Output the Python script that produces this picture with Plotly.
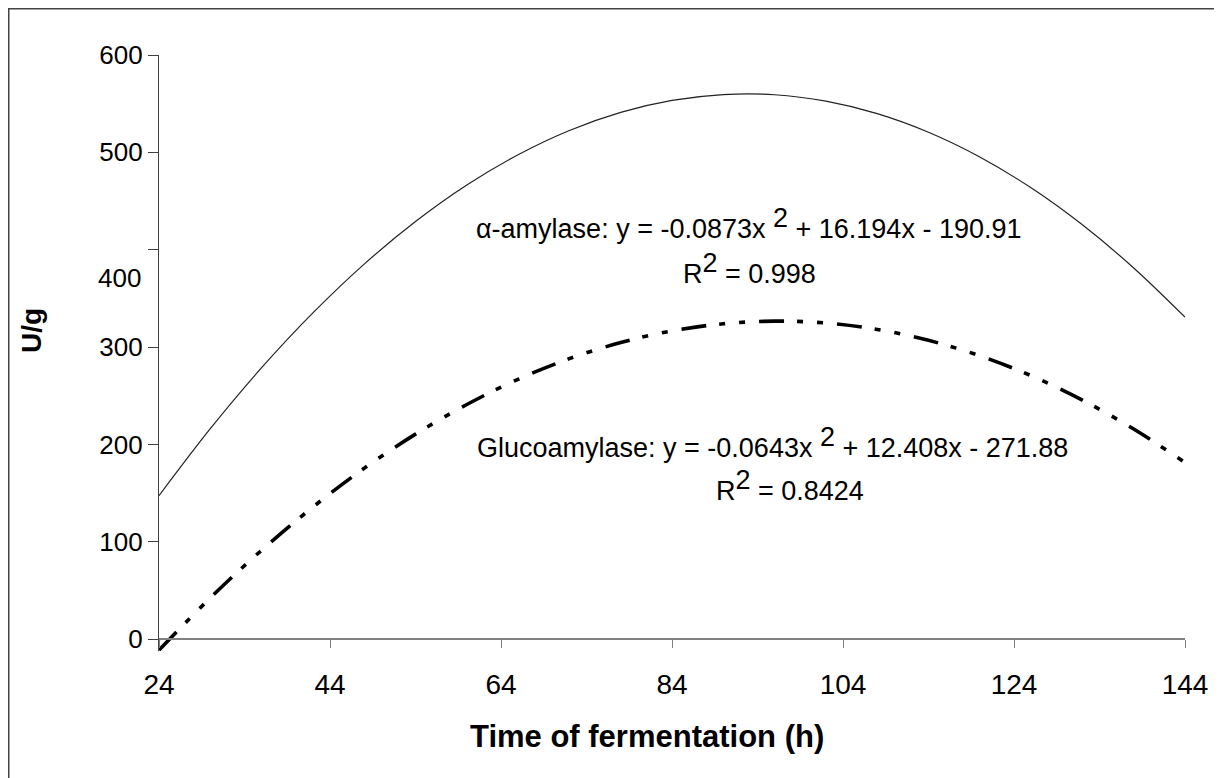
import plotly.graph_objects as go

# Time of fermentation (h)
hours = [24, 30, 36, 42, 48, 54, 60, 66, 72, 78, 84, 90, 96, 102, 108, 114, 120, 126, 132, 138, 144]
# alpha-amylase activity (U/g)
alpha_amylase = [147.5, 216.3, 278.9, 335.2, 385.3, 429.0, 466.5, 497.6, 522.5, 541.1, 553.4,
                 559.4, 559.2, 552.6, 539.8, 520.7, 495.3, 463.6, 425.6, 381.3, 330.8]
# glucoamylase activity (U/g)
glucoamylase = [-11.1, 42.5, 91.5, 135.8, 175.6, 210.7, 241.1, 267.0, 288.2, 304.7, 316.7,
                324.0, 326.7, 324.8, 318.2, 307.0, 291.2, 270.7, 245.6, 215.9, 181.6]

x_ticks = [24, 44, 64, 84, 104, 124, 144]
y_ticks = [0, 100, 200, 300, 400, 500, 600]
y_ticktext = ["0", "100", "200", "300", "", "500", "600"]

FONT = "Liberation Sans, Arial, sans-serif"
EQ_SIZE = 27
SUP = '<sup><span style="font-size:%dpx">2</span></sup>' % EQ_SIZE

W, H = 1214, 770
ML, MR, MT, MB = 151, 37, 47, 127
PW, PH = W - ML - MR, H - MT - MB

fig = go.Figure()
fig.add_trace(go.Scatter(
    x=hours, y=alpha_amylase, mode="lines", line_shape="spline",
    line=dict(color="#222222", width=1.2), name="α-amylase", showlegend=False,
))
fig.add_trace(go.Scatter(
    x=hours, y=glucoamylase, mode="lines", line_shape="spline",
    line=dict(color="#000000", width=3.6, dash="25px,13px,6px,14px,6px,14px"),
    name="Glucoamylase", showlegend=False,
))

eqfont = dict(family=FONT, size=EQ_SIZE, color="black")
annotations = [
    dict(x=92.9, y=427, xref="x", yref="y", showarrow=False, xanchor="center", yanchor="middle",
         text="α-amylase: y = -0.0873x " + SUP + " + 16.194x - 190.91", font=eqfont),
    dict(x=93.1, y=381, xref="x", yref="y", showarrow=False, xanchor="center", yanchor="middle",
         text="R" + SUP + " = 0.998", font=eqfont),
    dict(x=95.8, y=202, xref="x", yref="y", showarrow=False, xanchor="center", yanchor="middle",
         text="Glucoamylase: y = -0.0643x " + SUP + " + 12.408x - 271.88", font=eqfont),
    dict(x=97.8, y=158, xref="x", yref="y", showarrow=False, xanchor="center", yanchor="middle",
         text="R" + SUP + " = 0.8424", font=eqfont),
    # misplaced "400" label as in the original
    dict(x=-16 / PW, y=371, xref="paper", yref="y", xanchor="right", yanchor="middle", showarrow=False,
         text="400", font=dict(family=FONT, size=26, color="black")),
    dict(x=(647 - 159) / PW, y=-(736 - 651) / PH, xref="paper", yref="paper", showarrow=False,
         xanchor="center", yanchor="middle",
         text="<b>Time of fermentation (h)</b>", font=dict(family=FONT, size=31, color="black")),
    dict(x=-(159 - 31) / PW, y=(651 - 331) / PH, xref="paper", yref="paper", showarrow=False,
         xanchor="center", yanchor="middle", textangle=-90,
         text="<b>U/g</b>", font=dict(family=FONT, size=28, color="black")),
]

fig.update_layout(
    width=W, height=H,
    margin=dict(l=ML, r=MR, t=MT, b=MB),
    paper_bgcolor="white", plot_bgcolor="white",
    font=dict(family=FONT, color="black"),
    annotations=annotations,
    shapes=[dict(type="rect", xref="paper", yref="paper",
                 x0=-(ML - 0.75) / PW, x1=1.2, y0=-0.4, y1=1 + (MT - 0.75) / PH,
                 line=dict(color="#444444", width=1.5), layer="below")],
    xaxis=dict(range=[24, 144], tickvals=x_ticks, ticktext=[str(v) for v in x_ticks],
               showgrid=False, zeroline=False, showline=True, linecolor="#808080", linewidth=1.5,
               ticks="outside", ticklen=8, tickcolor="#808080", tickwidth=1,
               anchor="free", position=12 / 612,
               tickfont=dict(family=FONT, size=28, color="black"), ticklabelstandoff=12),
    yaxis=dict(range=[-12, 600], tickvals=y_ticks, ticktext=y_ticktext,
               showgrid=False, zeroline=False, showline=True, linecolor="#404040", linewidth=1.2,
               ticks="outside", ticklen=10, tickcolor="#404040", tickwidth=1,
               tickfont=dict(family=FONT, size=26, color="black")),
)

fig.write_html("out.html")
